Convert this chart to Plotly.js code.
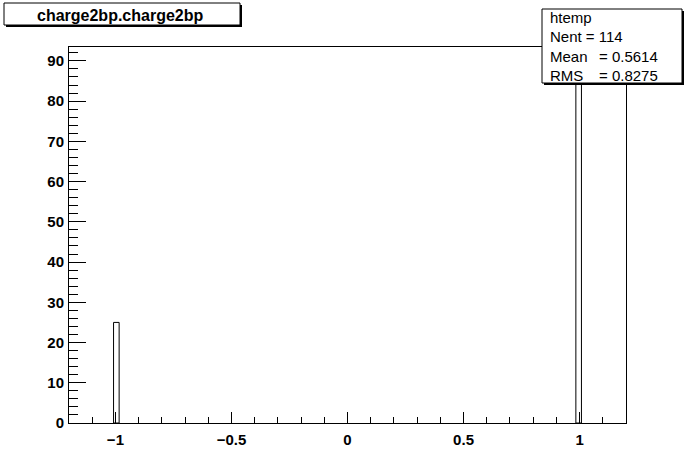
<!DOCTYPE html>
<html>
<head>
<meta charset="utf-8">
<script src="https://cdn.plot.ly/plotly-3.0.1.min.js"></script>
<style>html,body{margin:0;padding:0;background:#fff;}#chart{width:696px;height:472px;}</style>
</head>
<body>
<div id="chart"></div>
<script>
// Histogram data (charge2bp), 100 bins over [-1.2, 1.2]
var binLow = [-1.008, 0.984];
var counts = [25, 89];
var binWidth = 0.024;
var histName = "htemp";
var titleText = "charge2bp.charge2bp";
var statLabels = ["Nent = 114", "Mean", "RMS"];
var statValues = ["", "= 0.5614", "= 0.8275"];

var W = 696, H = 472;
var mL = 69, mR = 70, mT = 47, mB = 49;
var pw = W - mL - mR, ph = H - mT - mB;
function px(x){ return (x - mL) / pw; }
function py(y){ return (H - mB - y) / ph; }

var font = "Liberation Sans, Arial, Helvetica, sans-serif";

var trace = {
  type: 'bar',
  x: binLow,
  y: counts,
  offset: 0,
  width: binWidth,
  marker: {color: 'rgba(0,0,0,0)', line: {color: '#000', width: 1}},
  hoverinfo: 'x+y'
};

function box(x0, y0, x1, y1, sh){
  return [
    {type:'rect', xref:'paper', yref:'paper', x0:px(x0+sh), x1:px(x1+sh), y0:py(y0+sh), y1:py(y1+sh),
     fillcolor:'#000', line:{width:0}, layer:'above'},
    {type:'rect', xref:'paper', yref:'paper', x0:px(x0), x1:px(x1), y0:py(y0), y1:py(y1),
     fillcolor:'#fff', line:{color:'#000', width:1}, layer:'above'}
  ];
}

var shapes = [].concat(box(4, 3, 240, 25, 2), box(542, 9, 682, 83, 2));

var ann = [];
ann.push({xref:'paper', yref:'paper', x:px(120), y:py(15), text:'<b>'+titleText+'</b>', showarrow:false,
  xanchor:'center', yanchor:'middle', font:{family:font, size:16, color:'#000'}});
ann.push({xref:'paper', yref:'paper', x:px(548), y:py(18), text:histName, showarrow:false,
  xanchor:'left', yanchor:'middle', font:{family:font, size:15, color:'#000'}});
var rowsY = [37, 56, 75];
for (var i = 0; i < statLabels.length; i++){
  ann.push({xref:'paper', yref:'paper', x:px(548), y:py(rowsY[i]), text:statLabels[i], showarrow:false,
    xanchor:'left', yanchor:'middle', font:{family:font, size:15, color:'#000'}});
  if (statValues[i]) ann.push({xref:'paper', yref:'paper', x:px(597), y:py(rowsY[i]), text:statValues[i], showarrow:false,
    xanchor:'left', yanchor:'middle', font:{family:font, size:15, color:'#000'}});
}

var layout = {
  width: W, height: H,
  margin: {l: mL, r: mR, t: mT, b: mB, pad: 0},
  paper_bgcolor: '#fff', plot_bgcolor: '#fff',
  showlegend: false,
  bargap: 0,
  xaxis: {
    range: [-1.2, 1.2], dtick: 0.5, tick0: 0,
    ticks: 'inside', ticklen: 11, tickwidth: 1, tickcolor: '#000',
    minor: {dtick: 0.1, tick0: 0, ticks: 'inside', ticklen: 6, tickwidth: 1, tickcolor: '#000', showgrid: false},
    showgrid: false, zeroline: false,
    showline: true, linecolor: '#000', linewidth: 1, mirror: true,
    ticklabelstandoff: 3,
    tickfont: {family: font, size: 15, color: '#000', weight: 'bold'}
  },
  yaxis: {
    range: [0, 93.45], dtick: 10, tick0: 0,
    ticks: 'inside', ticklen: 17, tickwidth: 1, tickcolor: '#000',
    minor: {dtick: 2, tick0: 0, ticks: 'inside', ticklen: 9, tickwidth: 1, tickcolor: '#000', showgrid: false},
    showgrid: false, zeroline: false,
    showline: true, linecolor: '#000', linewidth: 1, mirror: true,
    ticklabelstandoff: 1,
    tickfont: {family: font, size: 15, color: '#000', weight: 'bold'}
  },
  shapes: shapes,
  annotations: ann
};

Plotly.newPlot('chart', [trace], layout, {displayModeBar: false, staticPlot: true});
</script>
</body>
</html>
